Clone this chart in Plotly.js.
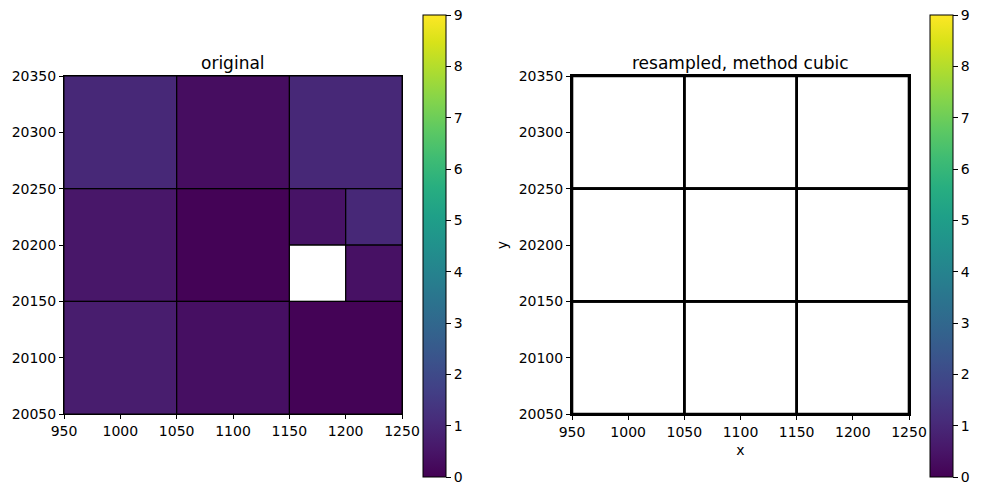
<!DOCTYPE html>
<html>
<head>
<meta charset="utf-8">
<script src="https://cdn.plot.ly/plotly-3.0.1.min.js"></script>
<style>html,body{margin:0;padding:0;background:#fff;}#chart{width:981px;height:495px;}</style>
</head>
<body>
<div id="chart"></div>
<script>
// ---- data: original (irregular cells) ----
const cellX0 = [950, 1050, 1150, 950, 1050, 1150, 1200, 1150, 1200, 950, 1050, 1150];
const cellX1 = [1050, 1150, 1250, 1050, 1150, 1200, 1250, 1200, 1250, 1050, 1150, 1250];
const cellY0 = [20250, 20250, 20250, 20150, 20150, 20200, 20200, 20150, 20150, 20050, 20050, 20050];
const cellY1 = [20350, 20350, 20350, 20250, 20250, 20250, 20250, 20200, 20200, 20150, 20150, 20150];
const cellVal = [1.0, 0.3, 1.0, 0.55, 0.05, 0.45, 1.0, null, 0.4, 0.7, 0.35, 0.05];

// ---- data: resampled (all empty cells) ----
const resX0 = [950, 1050, 1150, 950, 1050, 1150, 950, 1050, 1150];
const resX1 = [1050, 1150, 1250, 1050, 1150, 1250, 1050, 1150, 1250];
const resY0 = [20250, 20250, 20250, 20150, 20150, 20150, 20050, 20050, 20050];
const resY1 = [20350, 20350, 20350, 20250, 20250, 20250, 20150, 20150, 20150];
const resVal = [null, null, null, null, null, null, null, null, null];

const xTicks = [950, 1000, 1050, 1100, 1150, 1200, 1250];
const yTicks = [20050, 20100, 20150, 20200, 20250, 20300, 20350];
const cbTicks = [0, 1, 2, 3, 4, 5, 6, 7, 8, 9];

// build a fine grid from the cells
function gridFrom(x0, x1, y0, y1, v, step) {
  const xmin = Math.min(...x0), xmax = Math.max(...x1);
  const ymin = Math.min(...y0), ymax = Math.max(...y1);
  const xs = [], ys = [];
  for (let x = xmin + step / 2; x < xmax; x += step) xs.push(x);
  for (let y = ymin + step / 2; y < ymax; y += step) ys.push(y);
  const z = ys.map(y => xs.map(x => {
    for (let i = 0; i < v.length; i++) {
      if (x > x0[i] && x < x1[i] && y > y0[i] && y < y1[i]) return v[i];
    }
    return null;
  }));
  return {xs, ys, z};
}
function edgesFrom(x0, x1, y0, y1) {
  const ex = [], ey = [];
  for (let i = 0; i < x0.length; i++) {
    ex.push(x0[i], x1[i], x1[i], x0[i], x0[i], null);
    ey.push(y0[i], y0[i], y1[i], y1[i], y0[i], null);
  }
  return {ex, ey};
}

const g1 = gridFrom(cellX0, cellX1, cellY0, cellY1, cellVal, 50);
const e1 = edgesFrom(cellX0, cellX1, cellY0, cellY1);
const g2 = gridFrom(resX0, resX1, resY0, resY1, resVal, 50);
const e2 = edgesFrom(resX0, resX1, resY0, resY1);

const W = 981, H = 495;
const font = {family: 'DejaVu Sans, sans-serif', size: 14, color: '#000'};

function cb(xpx) {
  return {
    x: xpx / W, xanchor: 'left', xref: 'paper',
    y: 1 - 246 / H, yanchor: 'middle', yref: 'paper',
    len: 462, lenmode: 'pixels', thickness: 23, thicknessmode: 'pixels',
    outlinewidth: 1, outlinecolor: '#000',
    ticks: 'outside', ticklen: 5, tickwidth: 1, tickcolor: '#000',
    tickvals: cbTicks, ticktext: cbTicks.map(String),
    tickfont: font, xpad: 0, ypad: 0, borderwidth: 0
  };
}

const traces = [
  {type: 'heatmap', x: g1.xs, y: g1.ys, z: g1.z, zmin: 0, zmax: 9, zauto: false,
   colorscale: 'Viridis', xaxis: 'x', yaxis: 'y', colorbar: cb(423), hoverinfo: 'skip'},
  {type: 'scatter', mode: 'lines', x: e1.ex, y: e1.ey, line: {color: '#000', width: 1},
   xaxis: 'x', yaxis: 'y', showlegend: false, hoverinfo: 'skip'},
  {type: 'heatmap', x: g2.xs, y: g2.ys, z: g2.z, zmin: 0, zmax: 9, zauto: false,
   colorscale: 'Viridis', xaxis: 'x2', yaxis: 'y2', showscale: false, hoverinfo: 'skip'},
  // colour scale carrier for the right colorbar (no visible points: resampled values are empty)
  {type: 'scatter', mode: 'markers', x: resVal.concat([null]), y: resVal.concat([null]),
   marker: {color: cbTicks, cmin: 0, cmax: 9, colorscale: 'Viridis', showscale: true, colorbar: cb(930), size: 1},
   xaxis: 'x2', yaxis: 'y2', showlegend: false, hoverinfo: 'skip'},
  {type: 'scatter', mode: 'lines', x: e2.ex, y: e2.ey, line: {color: '#000', width: 2.6},
   xaxis: 'x2', yaxis: 'y2', showlegend: false, hoverinfo: 'skip'}
];

function ax(domain, range, ticks, anchor, lw) {
  return {
    domain: domain, range: range, anchor: anchor, tickvals: ticks, ticktext: ticks.map(String),
    showgrid: false, zeroline: false, showline: true, linecolor: '#000', linewidth: lw, mirror: true,
    ticks: 'outside', ticklen: 4, tickwidth: 1, tickcolor: '#000', tickfont: font, fixedrange: true
  };
}
const yDom = [1 - 414 / H, 1 - 76 / H];
const tfont = {family: font.family, size: 17, color: '#000'};
const layout = {
  width: W, height: H, margin: {l: 0, r: 0, t: 0, b: 0},
  paper_bgcolor: '#fff', plot_bgcolor: '#fff', showlegend: false,
  font: font,
  xaxis: ax([64 / W, 402 / W], [950, 1250], xTicks, 'y', 1),
  yaxis: ax(yDom, [20050, 20350], yTicks, 'x', 1),
  xaxis2: Object.assign(ax([572 / W, 909 / W], [950, 1250], xTicks, 'y2', 2),
    {title: {text: 'x', font: font, standoff: 6}}),
  yaxis2: Object.assign(ax(yDom, [20050, 20350], yTicks, 'x2', 2),
    {title: {text: 'y', font: font, standoff: 8}}),
  annotations: [
    {text: 'original', x: (64 + 402) / 2 / W, y: 1 - 63 / H, xref: 'paper', yref: 'paper',
     xanchor: 'center', yanchor: 'middle', showarrow: false, font: tfont},
    {text: 'resampled, method cubic', x: (572 + 909) / 2 / W, y: 1 - 63 / H, xref: 'paper', yref: 'paper',
     xanchor: 'center', yanchor: 'middle', showarrow: false, font: tfont}
  ]
};
Plotly.newPlot('chart', traces, layout, {displayModeBar: false, staticPlot: true});
</script>
</body>
</html>
